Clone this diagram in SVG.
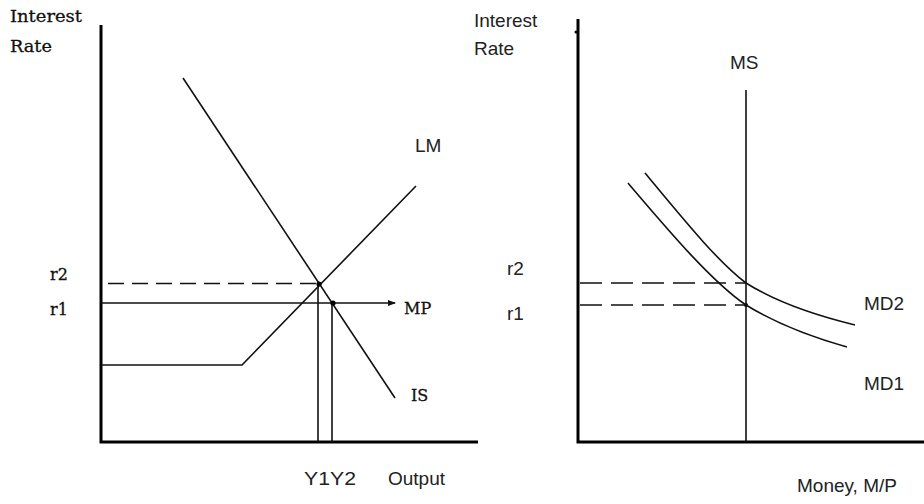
<svg xmlns="http://www.w3.org/2000/svg" width="924" height="504" viewBox="0 0 924 504">
<defs>
<style>
.axis{stroke:#000;stroke-width:3;fill:none}
.ln{stroke:#111;stroke-width:1.6;fill:none}
.dash{stroke:#111;stroke-width:1.6;fill:none;stroke-dasharray:16 8}
.serif{font-family:"DejaVu Serif","Liberation Serif",serif;font-size:16px;fill:#111;stroke:#111;stroke-width:0.3}
.sans{font-family:"Liberation Sans",Arial,sans-serif;font-size:19px;fill:#222}
</style>
<marker id="arr" markerWidth="8" markerHeight="6" refX="7" refY="3" orient="auto" markerUnits="userSpaceOnUse">
<path d="M0,0 L8,3 L0,6 z" fill="#111"/>
</marker>
</defs>
<rect width="924" height="504" fill="#fff"/>

<g id="left-axes">
<path class="axis" d="M101,25 V442 H478"/>
<text class="serif" x="10" y="22" textLength="72" lengthAdjust="spacingAndGlyphs" style="font-size:17px">Interest</text>
<text class="serif" x="10" y="52" textLength="42" lengthAdjust="spacingAndGlyphs" style="font-size:17px">Rate</text>
<text class="serif" x="50" y="280">r2</text>
<text class="serif" x="50" y="315">r1</text>
<text class="sans" x="304" y="485" textLength="52" lengthAdjust="spacingAndGlyphs">Y1Y2</text>
<text class="sans" x="388" y="485">Output</text>
</g>

<g id="right-axes">
<path class="axis" d="M578,19 V442 H924"/>
<circle cx="576" cy="32" r="1.5" fill="#000"/>
<text class="sans" x="474" y="27">Interest</text>
<text class="sans" x="474" y="55">Rate</text>
<text class="sans" x="507" y="275">r2</text>
<text class="sans" x="507" y="320">r1</text>
<text class="sans" x="797" y="492">Money, M/P</text>
</g>

<g id="connectors">
<path class="dash" d="M108,283.5 H319"/>
<path class="ln" d="M101,303 H395" marker-end="url(#arr)"/>
<path class="ln" d="M318,284 V442"/>
<path class="ln" d="M332,303 V442"/>
<path class="dash" d="M580,283 H746" style="stroke-dasharray:22 9"/>
<path class="dash" d="M580,305 H746" style="stroke-dasharray:22 9"/>
</g>

<g id="LM">
<path class="ln" d="M101,365 H242 L416,186"/>
<text class="sans" x="415" y="152">LM</text>
</g>

<g id="IS">
<path class="ln" d="M183,78 L395,398"/>
<text class="serif" x="411" y="401">IS</text>
</g>

<g id="MP">
<text class="serif" x="404" y="314">MP</text>
</g>

<g id="equilibria">
<circle cx="319" cy="284" r="2.6" fill="#000"/>
<circle cx="333" cy="303" r="2.6" fill="#000"/>
<circle cx="746" cy="305" r="2" fill="#000"/>
</g>

<g id="MS">
<path class="ln" d="M746,90 V442"/>
<text class="sans" x="730" y="69">MS</text>
</g>

<g id="MD1">
<path class="ln" d="M628,183 C668,230 712,282 746,305 C780,326 815,338 847,347"/>
<text class="sans" x="864" y="390">MD1</text>
</g>

<g id="MD2">
<path class="ln" d="M645,173 C684,220 718,262 746,283 C776,302 818,316 855,325"/>
<text class="sans" x="864" y="310">MD2</text>
</g>
</svg>
